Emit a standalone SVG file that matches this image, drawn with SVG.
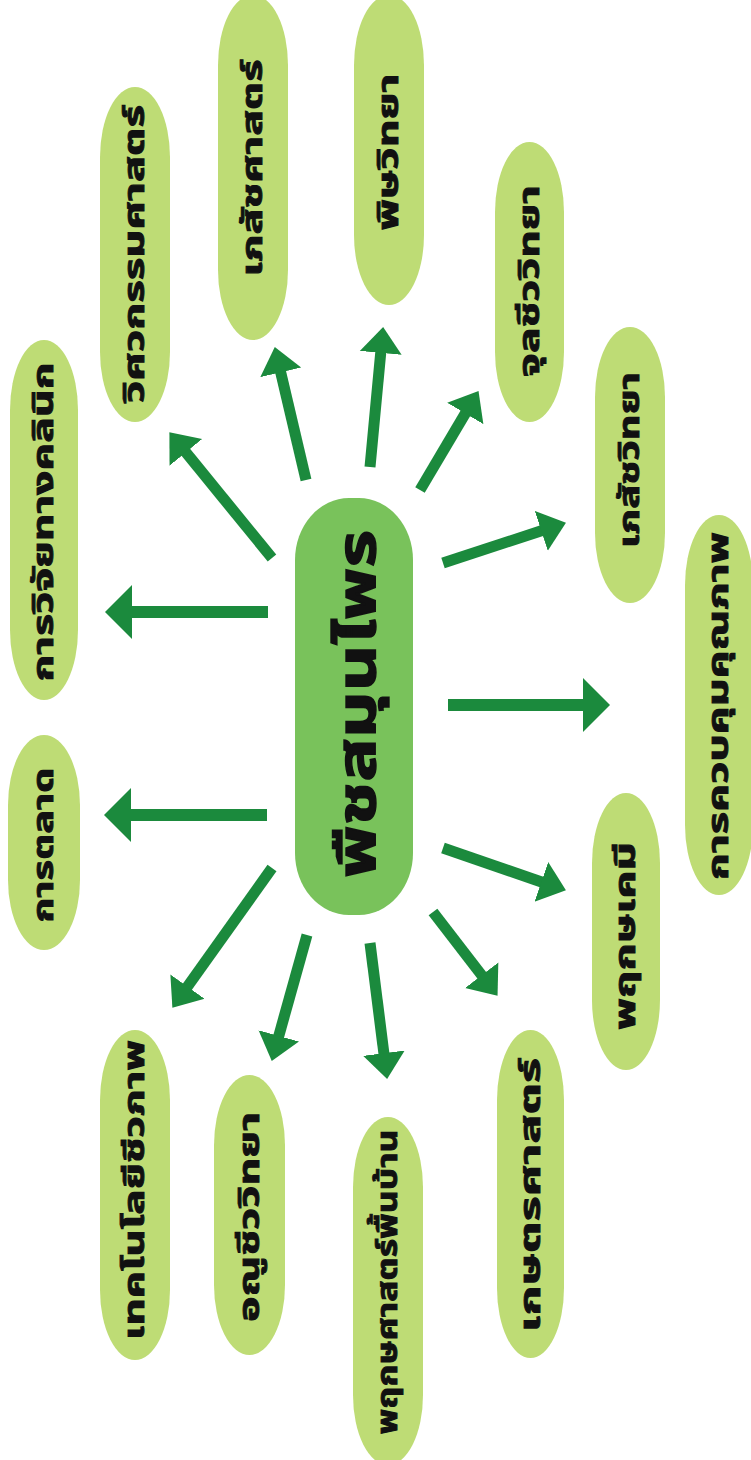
<svg xmlns="http://www.w3.org/2000/svg" width="751" height="1460" viewBox="0 0 751 1460">
  <style>
    .pill { fill: #bedc75; }
    .hub { fill: #79c25b; }
    .lbl { font-family: "Noto Sans Thai", "Noto Sans", "DejaVu Sans", sans-serif; font-weight: bold; font-size: 29px; fill: #111; stroke: #111; stroke-width: 0.9; text-anchor: middle; dominant-baseline: central; }
    .hubtxt { font-size: 54px; stroke-width: 1.4; }
    .arr { stroke: #1b8a3d; stroke-width: 11; fill: none; }
    .big { stroke-width: 12; marker-end: url(#headBig); }
    .small { marker-end: url(#headSmall); }
  </style>
  <defs>
    <marker id="headBig" markerUnits="userSpaceOnUse" viewBox="0 -28 28 56" markerWidth="28" markerHeight="56" refX="1" refY="0" orient="auto">
      <path d="M0,-27 L27,0 L0,27 Z" fill="#1b8a3d"/>
    </marker>
    <marker id="headSmall" markerUnits="userSpaceOnUse" viewBox="0 -22 27 44" markerWidth="27" markerHeight="44" refX="1" refY="0" orient="auto">
      <path d="M0,-21 L26,0 L0,21 Z" fill="#1b8a3d"/>
    </marker>
  </defs>
  <rect width="751" height="1460" fill="#ffffff"/>

  <!-- connectors: hub to each topic -->
  <g id="connectors">
    <line class="arr big" x1="268" y1="612" x2="131" y2="612"/>
    <line class="arr big" x1="267" y1="815" x2="130" y2="815"/>
    <line class="arr big" x1="448" y1="705" x2="584" y2="705"/>
    <line class="arr small" x1="272" y1="558" x2="185.2" y2="451.6"/>
    <line class="arr small" x1="306" y1="480" x2="280.5" y2="371.4"/>
    <line class="arr small" x1="370" y1="467" x2="380.8" y2="351.9"/>
    <line class="arr small" x1="420" y1="490" x2="465.8" y2="412.6"/>
    <line class="arr small" x1="443" y1="563" x2="542.2" y2="530.5"/>
    <line class="arr small" x1="443" y1="848" x2="542.3" y2="882.2"/>
    <line class="arr small" x1="433" y1="912" x2="482.3" y2="976"/>
    <line class="arr small" x1="370" y1="943" x2="384" y2="1054.2"/>
    <line class="arr small" x1="307" y1="935" x2="278.5" y2="1036.9"/>
    <line class="arr small" x1="272" y1="868" x2="186.9" y2="987.4"/>
  </g>

  <g id="hub">
    <rect class="hub" x="295" y="498" width="118" height="417" rx="54" ry="62"/>
    <text class="lbl hubtxt" transform="translate(358,704) rotate(-90)" textLength="348" lengthAdjust="spacingAndGlyphs">พืชสมุนไพร</text>
  </g>

  <g id="clinical">
    <rect class="pill" x="10" y="340" width="68" height="360" rx="34" ry="70"/>
    <text class="lbl" transform="translate(44,522) rotate(-90)" textLength="319" lengthAdjust="spacingAndGlyphs">การวิจัยทางคลินิก</text>
  </g>
  <g id="engineering">
    <rect class="pill" x="100" y="87" width="70" height="335" rx="35" ry="70"/>
    <text class="lbl" transform="translate(135,254) rotate(-90)" textLength="298" lengthAdjust="spacingAndGlyphs">วิศวกรรมศาสตร์</text>
  </g>
  <g id="pharmacy">
    <rect class="pill" x="218" y="-5" width="70" height="345" rx="35" ry="70"/>
    <text class="lbl" transform="translate(253,168) rotate(-90)" textLength="217" lengthAdjust="spacingAndGlyphs">เภสัชศาสตร์</text>
  </g>
  <g id="toxicology">
    <rect class="pill" x="354" y="-5" width="70" height="310" rx="35" ry="70"/>
    <text class="lbl" transform="translate(389,152) rotate(-90)" textLength="157" lengthAdjust="spacingAndGlyphs">พิษวิทยา</text>
  </g>
  <g id="microbiology">
    <rect class="pill" x="495" y="142" width="69" height="280" rx="34.5" ry="70"/>
    <text class="lbl" transform="translate(529.5,281) rotate(-90)" textLength="192" lengthAdjust="spacingAndGlyphs">จุลชีววิทยา</text>
  </g>
  <g id="pharmacology">
    <rect class="pill" x="595" y="327" width="70" height="276" rx="35" ry="70"/>
    <text class="lbl" transform="translate(630,460) rotate(-90)" textLength="176" lengthAdjust="spacingAndGlyphs">เภสัชวิทยา</text>
  </g>
  <g id="quality">
    <rect class="pill" x="685" y="515" width="68" height="380" rx="34" ry="70"/>
    <text class="lbl" transform="translate(719,706) rotate(-90)" textLength="348" lengthAdjust="spacingAndGlyphs">การควบคุมคุณภาพ</text>
  </g>
  <g id="phytochemistry">
    <rect class="pill" x="592" y="793" width="68" height="277" rx="34" ry="70"/>
    <text class="lbl" transform="translate(626,936) rotate(-90)" textLength="188" lengthAdjust="spacingAndGlyphs">พฤกษเคมี</text>
  </g>
  <g id="agriculture">
    <rect class="pill" x="497" y="1030" width="67" height="328" rx="33.5" ry="70"/>
    <text class="lbl" transform="translate(530.5,1195) rotate(-90)" textLength="274" lengthAdjust="spacingAndGlyphs">เกษตรศาสตร์</text>
  </g>
  <g id="ethnobotany">
    <rect class="pill" x="353" y="1117" width="70" height="348" rx="35" ry="70"/>
    <text class="lbl" transform="translate(388,1282) rotate(-90)" textLength="305" lengthAdjust="spacingAndGlyphs">พฤกษศาสตร์พื้นบ้าน</text>
  </g>
  <g id="molecular">
    <rect class="pill" x="214" y="1075" width="71" height="280" rx="35.5" ry="70"/>
    <text class="lbl" transform="translate(249.5,1217) rotate(-90)" textLength="210" lengthAdjust="spacingAndGlyphs">อณูชีววิทยา</text>
  </g>
  <g id="biotech">
    <rect class="pill" x="100" y="1030" width="70" height="330" rx="35" ry="70"/>
    <text class="lbl" transform="translate(135,1190) rotate(-90)" textLength="300" lengthAdjust="spacingAndGlyphs">เทคโนโลยีชีวภาพ</text>
  </g>
  <g id="marketing">
    <rect class="pill" x="8" y="735" width="72" height="215" rx="36" ry="70"/>
    <text class="lbl" transform="translate(44,845) rotate(-90)" textLength="155" lengthAdjust="spacingAndGlyphs">การตลาด</text>
  </g>
</svg>
